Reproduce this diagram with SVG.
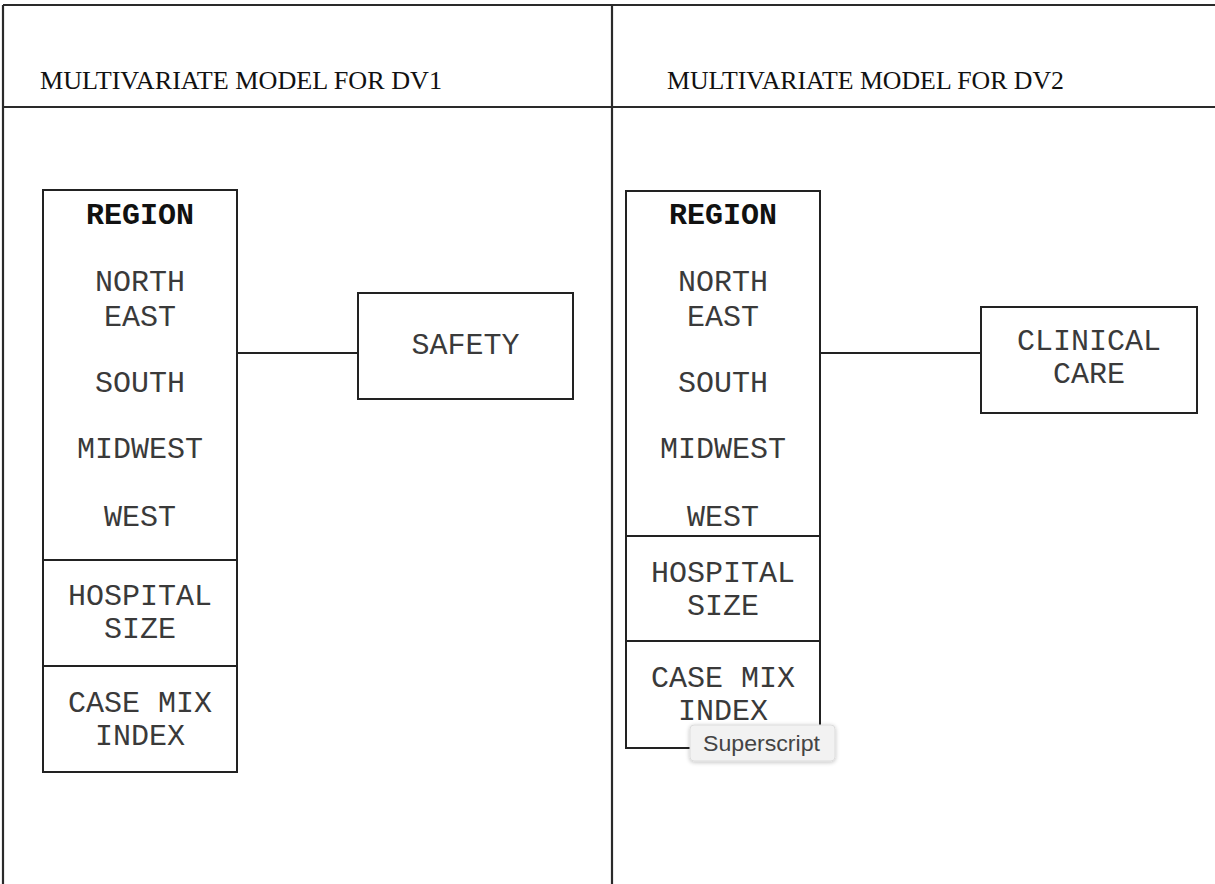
<svg xmlns="http://www.w3.org/2000/svg" width="1215" height="884" viewBox="0 0 1215 884">
  <defs>
    <style>
      .frame { stroke: #2a2a2a; stroke-width: 2.2; fill: none; }
      .box { stroke: #222; stroke-width: 2; fill: #fff; }
      .conn { stroke: #222; stroke-width: 2; fill: none; }
      .hdr { font-family: "Liberation Serif", "Times New Roman", serif; font-size: 25px; fill: #111; }
      .mono { font-family: "Liberation Mono", "Courier New", monospace; font-size: 30px; fill: #3a3a3a; text-anchor: middle; }
      .bold { font-weight: bold; fill: #111; }
      .tip { font-family: "Liberation Sans", Arial, sans-serif; font-size: 22px; fill: #444; }
    </style>
    <filter id="shadow" x="-20%" y="-40%" width="140%" height="180%">
      <feGaussianBlur in="SourceAlpha" stdDeviation="2"/>
      <feOffset dx="0" dy="1" result="b"/>
      <feComponentTransfer><feFuncA type="linear" slope="0.25"/></feComponentTransfer>
      <feMerge><feMergeNode/><feMergeNode in="SourceGraphic"/></feMerge>
    </filter>
  </defs>
  <rect width="1215" height="884" fill="#fff"/>

  <!-- table frame -->
  <g id="frame">
    <line class="frame" x1="3" y1="5" x2="1215" y2="5"/>
    <line class="frame" x1="3" y1="5" x2="3" y2="884"/>
    <line class="frame" x1="612" y1="5" x2="612" y2="884"/>
    <line class="frame" x1="3" y1="107" x2="1215" y2="107"/>
    <text class="hdr" x="40" y="89" textLength="402" lengthAdjust="spacingAndGlyphs">MULTIVARIATE MODEL FOR DV1</text>
    <text class="hdr" x="667" y="89" textLength="397" lengthAdjust="spacingAndGlyphs">MULTIVARIATE MODEL FOR DV2</text>
  </g>

  <!-- connectors -->
  <g id="connectors">
    <line class="conn" x1="237" y1="353" x2="358" y2="353"/>
    <line class="conn" x1="820" y1="353" x2="981" y2="353"/>
  </g>

  <!-- left model: predictors -->
  <g id="predictors-dv1">
    <rect class="box" x="43" y="190" width="194" height="582"/>
    <line class="conn" x1="43" y1="560" x2="237" y2="560"/>
    <line class="conn" x1="43" y1="666" x2="237" y2="666"/>
    <text class="mono bold" x="140" y="224">REGION</text>
    <text class="mono" x="140" y="291">NORTH</text>
    <text class="mono" x="140" y="326">EAST</text>
    <text class="mono" x="140" y="392">SOUTH</text>
    <text class="mono" x="140" y="458">MIDWEST</text>
    <text class="mono" x="140" y="526">WEST</text>
    <text class="mono" x="140" y="605">HOSPITAL</text>
    <text class="mono" x="140" y="638">SIZE</text>
    <text class="mono" x="140" y="712">CASE MIX</text>
    <text class="mono" x="140" y="745">INDEX</text>
  </g>

  <g id="safety">
    <rect class="box" x="358" y="293" width="215" height="106"/>
    <text class="mono" x="465.5" y="354">SAFETY</text>
  </g>

  <!-- right model: predictors -->
  <g id="predictors-dv2">
    <rect class="box" x="626" y="191" width="194" height="557"/>
    <line class="conn" x1="626" y1="536" x2="820" y2="536"/>
    <line class="conn" x1="626" y1="641" x2="820" y2="641"/>
    <text class="mono bold" x="723" y="224">REGION</text>
    <text class="mono" x="723" y="291">NORTH</text>
    <text class="mono" x="723" y="326">EAST</text>
    <text class="mono" x="723" y="392">SOUTH</text>
    <text class="mono" x="723" y="458">MIDWEST</text>
    <text class="mono" x="723" y="526">WEST</text>
    <text class="mono" x="723" y="582">HOSPITAL</text>
    <text class="mono" x="723" y="615">SIZE</text>
    <text class="mono" x="723" y="687">CASE MIX</text>
    <text class="mono" x="723" y="720">INDEX</text>
  </g>

  <g id="clinical-care">
    <rect class="box" x="981" y="307" width="216" height="106"/>
    <text class="mono" x="1089" y="350">CLINICAL</text>
    <text class="mono" x="1089" y="383">CARE</text>
  </g>

  <!-- hover tooltip -->
  <g id="tooltip">
    <rect x="690" y="725" width="145" height="36" rx="4" fill="#f2f2f2" stroke="#dcdcdc" stroke-width="1" filter="url(#shadow)"/>
    <text class="tip" x="703" y="751" textLength="117" lengthAdjust="spacingAndGlyphs">Superscript</text>
  </g>
</svg>
